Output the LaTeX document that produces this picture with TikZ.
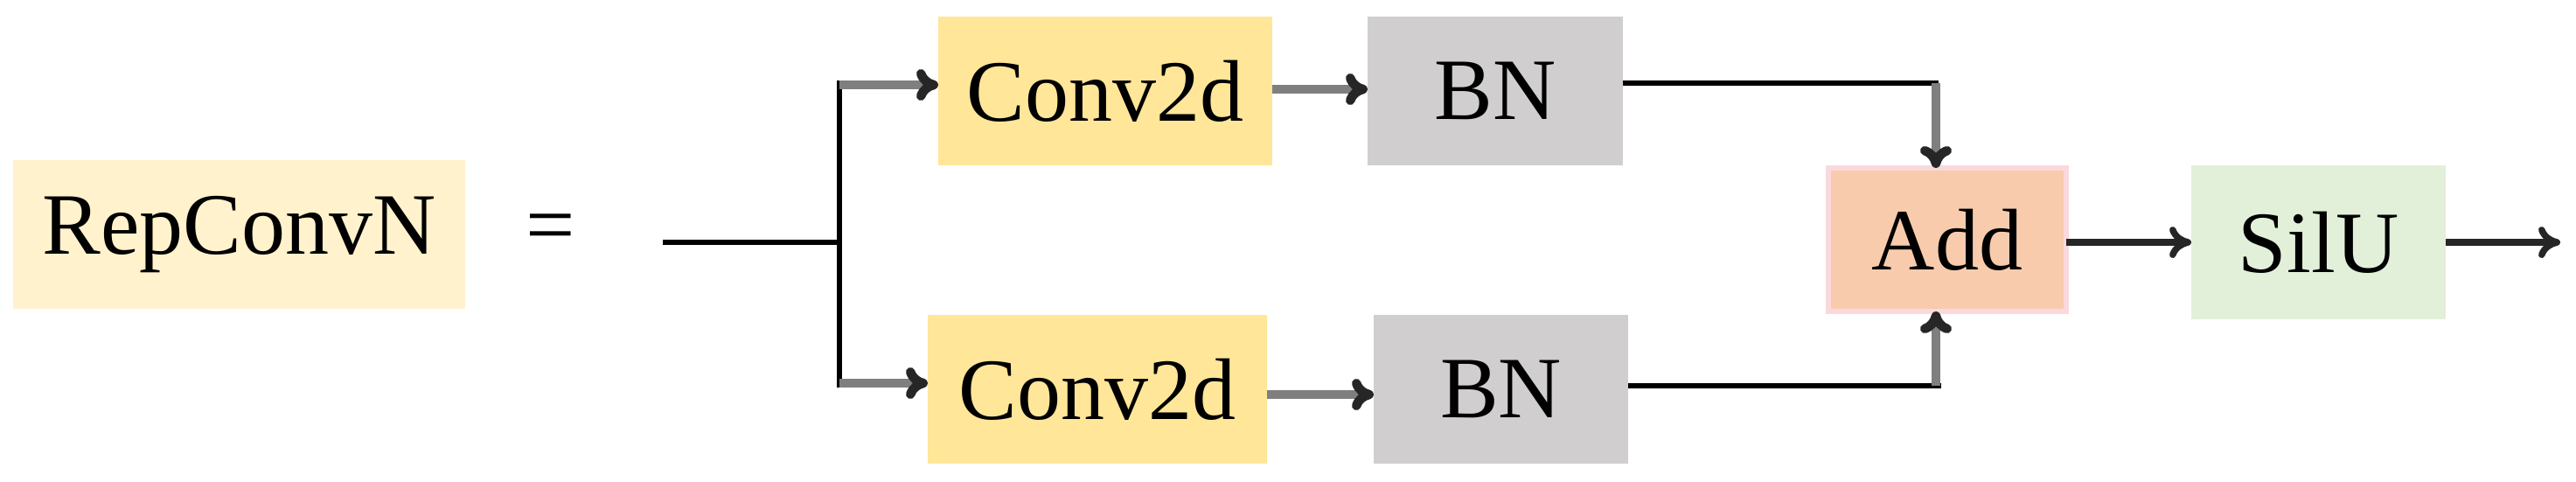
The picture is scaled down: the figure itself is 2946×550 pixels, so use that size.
\documentclass[tikz,border=0pt]{standalone}
\usepackage{fontspec}
\setmainfont{Liberation Serif}
\usetikzlibrary{arrows.meta}
\definecolor{repc}{HTML}{FFF2CC}
\definecolor{convc}{HTML}{FFE699}
\definecolor{bnc}{HTML}{D0CECE}
\definecolor{addc}{HTML}{F8CBAD}
\definecolor{addb}{HTML}{FAD9DD}
\definecolor{siluc}{HTML}{E2F0D9}
\definecolor{garr}{HTML}{7F7F7F}
\definecolor{darr}{HTML}{262626}
\begin{document}
\begin{tikzpicture}[x=0.1pt,y=-0.1pt,
  blk/.style={inner sep=0pt, outer sep=0pt, minimum height=17pt,
    font=\fontsize{10pt}{12pt}\selectfont, text=black},
  bline/.style={line width=0.6pt, black},
  garrow/.style={line width=1.05pt, garr, -{To[length=2.5pt,width=3.6pt,color=darr]}},
  darrow/.style={line width=0.75pt, darr, -{To[length=2.5pt,width=3.6pt]}}]
\useasboundingbox (0,0) rectangle (2946,550);
\node[blk, fill=repc, minimum width=51.7pt] (rep) at (273.5,268) {RepConvN};
\node[blk] (eq) at (630,268) {=};
\node[blk, fill=convc, minimum width=38.2pt] (c1) at (1264,104) {Conv2d};
\node[blk, fill=bnc, minimum width=29.2pt] (b1) at (1710,104) {BN};
\node[blk, fill=convc, minimum width=38.8pt] (c2) at (1255,445) {Conv2d};
\node[blk, fill=bnc, minimum width=29.1pt] (b2) at (1716.5,445) {BN};
\node[blk, fill=addc, draw=addb, line width=0.6pt, minimum width=27.2pt, minimum height=16.4pt] (add) at (2227,274) {Add};
\node[blk, fill=siluc, minimum width=29.1pt, minimum height=17.6pt] (silu) at (2651.5,277) {SilU};
\coordinate (in) at (758,277);
\coordinate (sp) at (960,277);
\coordinate (out) at (2928,277);
\coordinate (tk) at (2214,95);
\coordinate (bk) at (2214,441);
% input and split
\draw[bline] (in) -- (sp);
\draw[bline] (960,92) -- (960,443);
\draw[garrow] (960,97) -- (c1.west |- 0,97);
\draw[garrow] (960,438) -- (c2.west |- 0,438);
% conv -> bn
\draw[garrow] (c1.east |- 0,102) -- (b1.west |- 0,102);
\draw[garrow] (c2.east |- 0,451) -- (b2.west |- 0,451);
% bn -> add
\draw[bline] (b1.east |- tk) -- ([xshift=0.3pt]tk);
\draw[garrow] (tk) -- (tk |- add.north);
\draw[bline] (b2.east |- bk) -- ([xshift=0.6pt]bk);
\draw[garrow] (bk) -- (bk |- add.south);
% add -> silu -> out
\draw[darrow] (add.east |- 0,277) -- (silu.west |- 0,277);
\draw[darrow] (silu.east |- 0,277) -- (out);
\end{tikzpicture}
\end{document}
